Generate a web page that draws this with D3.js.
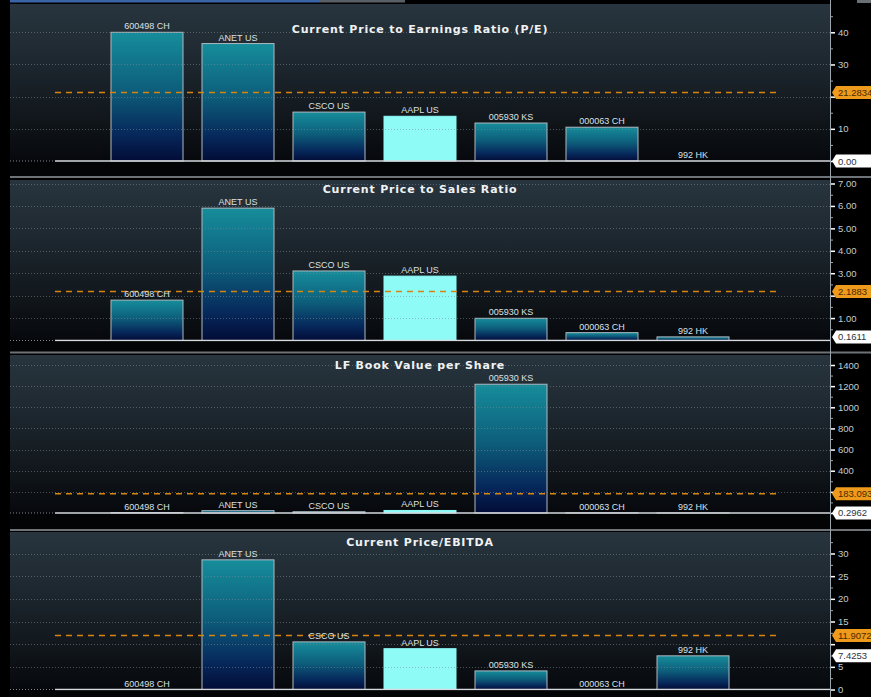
<!DOCTYPE html>
<html>
<head>
<meta charset="utf-8">
<script src="https://cdn.jsdelivr.net/npm/d3@7"></script>
<style>
  html, body { margin: 0; padding: 0; background: #000; }
  svg { display: block; }
</style>
</head>
<body>
<script>
// ---------------- DATA ----------------
const categories = ["600498 CH", "ANET US", "CSCO US", "AAPL US", "005930 KS", "000063 CH", "992 HK"];
const highlighted = "AAPL US";

const panelTitles = [
  "Current Price to Earnings Ratio (P/E)",
  "Current Price to Sales Ratio",
  "LF Book Value per Share",
  "Current Price/EBITDA"
];

const peValues       = [40.0, 36.5, 15.2, 13.9, 11.8, 10.5, 0];
const psValues       = [1.80, 5.90, 3.10, 2.87, 0.99, 0.35, 0.1611];
const bvpsValues     = [4, 22, 12, 24, 1218, 1.5, 0.2962];
const ebitdaValues   = [0, 28.6, 10.5, 9.0, 4.1, 0, 7.4253];

const averageValues  = [21.2834, 2.1883, 183.093, 11.9072];
const averageLabels  = ["21.2834", "2.1883", "183.093", "11.9072"];
const lastLabels     = ["0.00", "0.1611", "0.2962", "7.4253"];

// major ticks (all) and the ones whose labels are visible (others sit under the value tags)
const peTicks     = [0, 10, 20, 30, 40];
const psTicks     = [1, 2, 3, 4, 5, 6, 7];
const bvpsTicks   = [0, 200, 400, 600, 800, 1000, 1200, 1400];
const ebitdaTicks = [0, 5, 10, 15, 20, 25, 30];

const peTickLabels     = [10, 30, 40];
const psTickLabels     = [1, 3, 4, 5, 6, 7];
const bvpsTickLabels   = [400, 600, 800, 1000, 1200, 1400];
const ebitdaTickLabels = [0, 5, 15, 20, 25, 30];

const peMinor     = [5, 15, 25, 35, 45];
const psMinor     = [0.5, 1.5, 2.5, 3.5, 4.5, 5.5, 6.5];
const bvpsMinor   = [100, 300, 500, 700, 900, 1100, 1300];
const ebitdaMinor = [2.5, 7.5, 12.5, 17.5, 22.5, 27.5, 32.5];

// ---------------- LAYOUT ----------------
const W = 871, H = 697;
const plotLeft = 10, axisX = 830, barsLeft = 55, avgRight = 780, titleX = 420;

const layouts = [
  { bgTop: 4,   base: 161,   topVal: 40,   topPx: 32.3,  sep: 177,   titleY: 33 },
  { bgTop: 180, base: 340.5, topVal: 7,    topPx: 183.5, sep: 352.5, titleY: 193 },
  { bgTop: 355, base: 513,   topVal: 1400, topPx: 365,   sep: 530,   titleY: 369 },
  { bgTop: 532, base: 689.5, topVal: 30,   topPx: 553.5, sep: null,  titleY: 546 }
];

const panels = [
  { title: panelTitles[0], values: peValues,     avg: averageValues[0], avgLabel: averageLabels[0], lastLabel: lastLabels[0], ticks: peTicks,     labels: peTickLabels,     minor: peMinor,     fmt: d3.format("d") },
  { title: panelTitles[1], values: psValues,     avg: averageValues[1], avgLabel: averageLabels[1], lastLabel: lastLabels[1], ticks: psTicks,     labels: psTickLabels,     minor: psMinor,     fmt: d3.format(".2f") },
  { title: panelTitles[2], values: bvpsValues,   avg: averageValues[2], avgLabel: averageLabels[2], lastLabel: lastLabels[2], ticks: bvpsTicks,   labels: bvpsTickLabels,   minor: bvpsMinor,   fmt: d3.format("d") },
  { title: panelTitles[3], values: ebitdaValues, avg: averageValues[3], avgLabel: averageLabels[3], lastLabel: lastLabels[3], ticks: ebitdaTicks, labels: ebitdaTickLabels, minor: ebitdaMinor, fmt: d3.format("d") }
].map((p, i) => Object.assign(p, layouts[i]));

const x = d3.scaleBand()
  .domain(categories)
  .range([101.5, 738.5])
  .paddingInner(19 / 91)
  .paddingOuter(19 / 182);

const svg = d3.select("body").append("svg")
  .attr("width", W).attr("height", H)
  .style("font-family", "'Liberation Sans', Arial, sans-serif");

const defs = svg.append("defs");
const bg = defs.append("linearGradient").attr("id", "bgGrad").attr("x1", 0).attr("y1", 0).attr("x2", 0).attr("y2", 1);
[[0, "#28353e"], [0.35, "#1e2830"], [0.7, "#12181d"], [1, "#06080c"]].forEach(s =>
  bg.append("stop").attr("offset", s[0]).attr("stop-color", s[1]));
const bar = defs.append("linearGradient").attr("id", "barGrad").attr("x1", 0).attr("y1", 0).attr("x2", 0).attr("y2", 1);
[[0, "#168d9b"], [0.45, "#0d5e7b"], [0.8, "#06275a"], [1, "#020c36"]].forEach(s =>
  bar.append("stop").attr("offset", s[0]).attr("stop-color", s[1]));

svg.append("rect").attr("width", W).attr("height", H).attr("fill", "#000");

// top scroll indicator
svg.append("rect").attr("x", 10).attr("y", 0).attr("width", 310).attr("height", 2.5).attr("fill", "#3a64a8");
svg.append("rect").attr("x", 320).attr("y", 0).attr("width", 85).attr("height", 2.5).attr("fill", "#5a5f66");
svg.append("rect").attr("x", 857).attr("y", 0).attr("width", 14).attr("height", 3).attr("fill", "#6a6f75");

panels.forEach(p => {
  const y = d3.scaleLinear().domain([0, p.topVal]).range([p.base, p.topPx]);
  const g = svg.append("g");

  // background
  g.append("rect").attr("x", plotLeft).attr("y", p.bgTop)
    .attr("width", axisX - plotLeft).attr("height", p.base - p.bgTop)
    .attr("fill", "url(#bgGrad)");

  const rows = categories.map((c, i) => ({ c, v: p.values[i] }));

  // bars
  g.selectAll("rect.bar").data(rows)
    .join("rect").attr("class", "bar")
    .attr("x", d => x(d.c))
    .attr("width", x.bandwidth())
    .attr("y", d => y(d.v))
    .attr("height", d => Math.max(0, p.base - y(d.v)))
    .attr("fill", d => d.c === highlighted ? "#8ffbf7" : "url(#barGrad)")
    .attr("stroke", d => d.c === highlighted ? "#8ffbf7" : "#aeb9c0")
    .attr("stroke-width", 1)
    .attr("display", d => d.v > 0 ? null : "none");

  // gridlines (dotted, over bars)
  g.selectAll("line.grid").data(p.ticks.filter(t => t > 0))
    .join("line").attr("class", "grid")
    .attr("x1", plotLeft).attr("x2", axisX)
    .attr("y1", d => Math.round(y(d)) + 0.5).attr("y2", d => Math.round(y(d)) + 0.5)
    .attr("stroke", "#7d8891").attr("stroke-opacity", 0.55)
    .attr("stroke-width", 1).attr("stroke-dasharray", "1,2");

  // baseline
  g.append("line").attr("x1", plotLeft).attr("x2", barsLeft)
    .attr("y1", p.base).attr("y2", p.base)
    .attr("stroke", "#7d8891").attr("stroke-dasharray", "1,2");
  g.append("line").attr("x1", barsLeft).attr("x2", axisX)
    .attr("y1", p.base).attr("y2", p.base)
    .attr("stroke", "#d6dade").attr("stroke-width", 1.5);

  // black band below baseline
  g.append("rect").attr("x", plotLeft).attr("y", p.base + 1)
    .attr("width", axisX - plotLeft).attr("height", (p.sep || H) - p.base - 1)
    .attr("fill", "#030405");

  // average dashed line
  g.append("line").attr("x1", barsLeft).attr("x2", avgRight)
    .attr("y1", y(p.avg)).attr("y2", y(p.avg))
    .attr("stroke", "#d7850f").attr("stroke-width", 1.5)
    .attr("stroke-dasharray", "6,5");

  // bar labels
  g.selectAll("text.lbl").data(rows)
    .join("text").attr("class", "lbl")
    .attr("x", d => x(d.c) + x.bandwidth() / 2)
    .attr("y", d => y(d.v) - 3)
    .attr("text-anchor", "middle")
    .attr("font-size", "9px")
    .attr("fill", "#d9e1e6")
    .text(d => d.c);

  // title
  g.append("text").attr("x", titleX).attr("y", p.titleY)
    .attr("text-anchor", "middle")
    .attr("font-family", "'DejaVu Sans', Verdana, sans-serif")
    .attr("font-weight", "bold").attr("font-size", "11px")
    .attr("letter-spacing", "0.8px")
    .attr("fill", "#f0f2f4")
    .text(p.title);

  // right axis: major ticks
  const axis = d3.axisRight(y).tickValues(p.ticks)
    .tickFormat(d => p.labels.includes(d) ? p.fmt(d) : "")
    .tickSize(5).tickPadding(3);
  const ag = g.append("g").attr("transform", `translate(${axisX},0)`).call(axis);
  ag.select(".domain").remove();
  ag.selectAll(".tick line").attr("stroke", "#ffffff").attr("stroke-width", 1.5);
  ag.selectAll(".tick text").attr("fill", "#c3cbd2").attr("font-size", "9.5px")
    .attr("font-family", "'Liberation Sans', Arial, sans-serif");
  // minor ticks
  const minorAxis = d3.axisRight(y).tickValues(p.minor.filter(m => y(m) > p.bgTop)).tickFormat("").tickSize(3);
  const mg = g.append("g").attr("transform", `translate(${axisX},0)`).call(minorAxis);
  mg.select(".domain").remove();
  mg.selectAll(".tick line").attr("stroke", "#9aa3aa");

  // separator
  if (p.sep) {
    g.append("rect").attr("x", plotLeft).attr("y", p.sep - 1).attr("width", W - plotLeft).attr("height", 2)
      .attr("fill", "#6e7378");
  }

  // value tags
  function tag(val, label, fill, color) {
    const ty = y(val);
    const tg = g.append("g").attr("transform", `translate(0,${ty})`);
    tg.append("path")
      .attr("d", `M832,0 L836,-6.5 L875,-6.5 L875,6.5 L836,6.5 Z`)
      .attr("fill", fill);
    tg.append("text").attr("x", 838).attr("y", 3.5)
      .attr("font-size", "9.5px").attr("fill", color)
      .text(label);
  }
  tag(p.avg, p.avgLabel, "#ee9a1c", "#4a2a00");
  tag(p.values[p.values.length - 1], p.lastLabel, "#ffffff", "#2b3440");
});

// axis vertical line
svg.append("line").attr("x1", axisX + 0.5).attr("x2", axisX + 0.5).attr("y1", 0).attr("y2", H)
  .attr("stroke", "#9ea6ad").attr("stroke-width", 1);
</script>
</body>
</html>
